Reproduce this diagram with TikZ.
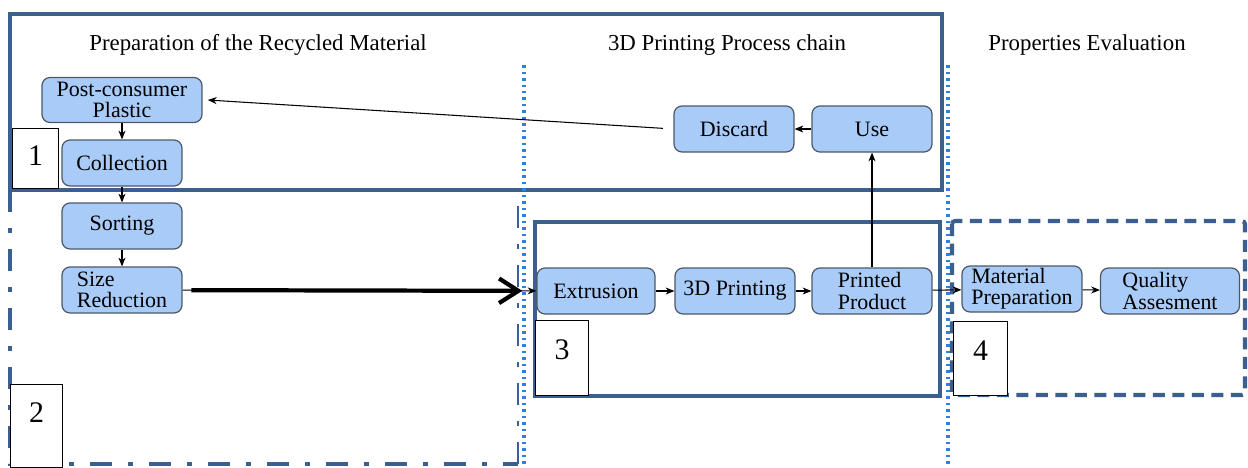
\documentclass[tikz,border=0pt]{standalone}
\usepackage{fontspec}
\setmainfont{Liberation Serif}
\usetikzlibrary{positioning, arrows.meta}

\definecolor{frameblue}{HTML}{3B5F8E}
\definecolor{dotblue}{HTML}{2F80DC}
\definecolor{stepfill}{HTML}{A9CBF7}
\definecolor{stepline}{HTML}{4C5866}

\begin{document}
\begin{tikzpicture}[
        % ----- global styles -----
        x=0.02cm, y=-0.02cm,
        >=Stealth,
        % process steps
        stepbox/.style={draw=stepline, fill=stepfill, rounded corners=0.16cm, line width=0.7pt,
            minimum width=2.4cm, minimum height=0.92cm, inner sep=1pt, align=center,
            font=\rmfamily\fontsize{12.5}{12}\selectfont},
        % stage number boxes
        numbox/.style={draw=black, fill=white, line width=0.6pt, anchor=north west, inner sep=0pt,
            text height=0.4cm, font=\rmfamily\fontsize{17}{17}\selectfont},
        % frames
        stage/.style={draw=frameblue, line width=2.8pt},
        stagedash/.style={draw=frameblue, line width=2.3pt, dash pattern=on 0.24cm off 0.15cm, rounded corners=0.06cm},
        stagedot/.style={draw=frameblue, line width=2.8pt, dash pattern=on 0.44cm off 0.32cm on 0.1cm off 0.32cm},
        divider/.style={draw=dotblue, line width=2pt, dash pattern=on 0.05cm off 0.08cm},
        heading/.style={font=\rmfamily\fontsize{13}{13}\selectfont},
        flow/.style={->, line width=0.6pt, >={Stealth[length=5pt, width=4pt]}}
    ]
    \useasboundingbox (0,0) rectangle (1248,467);

    % ----- frames -----
    \draw[stage] (10,14) rectangle (942,190);
    \draw[stagedot] (10,190) -- (10,464) -- (518,464);
    \draw[stagedot, line width=1.2pt] (518,464) -- (518,200);
    \draw[stage] (535,222) rectangle (940,396);
    \draw[stagedash] (952,221) rectangle (1245,395);
    \draw[divider] (524,65) -- (524,467);
    \draw[divider] (948,65) -- (948,467);

    % ----- headings -----
    \node[heading] (hprep) at (258,45) {Preparation of the Recycled Material};
    \node[heading] (hchain) at (727,45) {3D Printing Process chain};
    \node[heading] (heval) at (1087,45) {Properties Evaluation};

    % ----- steps -----
    \node[stepbox, minimum width=3.2cm, minimum height=0.9cm] (post) at (122,100) {Post-consumer\\Plastic};
    \node[stepbox] (coll) at (122,163) {Collection};
    \node[stepbox] (sort) at (122,226) {Sorting};
    \node[stepbox, align=left] (size) at (122,290) {Size\\Reduction};
    \node[stepbox, minimum width=2.36cm] (extr) at (596,291) {Extrusion};
    \node[stepbox] (print) at (735,291) {3D Printing};
    \node[stepbox, align=left] (prod) at (872,291) {Printed\\Product};
    \node[stepbox, align=left] (matprep) at (1022,289) {Material\\Preparation};
    \node[stepbox, align=left, minimum width=2.78cm] (quality) at (1170,291) {Quality\\Assesment};
    \node[stepbox] (discard) at (734,129) {Discard};
    \node[stepbox] (use) at (872,129) {Use};

    % ----- stage numbers -----
    \node[numbox, minimum width=0.92cm, minimum height=1.2cm, text depth=0.12cm] (n1) at (12,128) {1};
    \node[numbox, minimum width=1.04cm, minimum height=1.66cm, text depth=0.54cm] (n2) at (10,384) {2};
    \node[numbox, minimum width=1.06cm, minimum height=1.5cm, text depth=0.34cm] (n3) at (535,320) {3};
    \node[numbox, minimum width=1.08cm, minimum height=1.48cm, text depth=0.32cm] (n4) at (953,321) {4};

    % ----- arrows -----
    \draw[flow] (post) -- (coll);
    \draw[flow] (coll) -- (sort);
    \draw[flow] (sort) -- (size);
    \draw[flow] (size) -- (extr);
    \draw[line width=2.4pt, -{Straight Barb[length=11pt, width=14pt]}, shorten <=5pt, shorten >=8pt] (size) -- (extr);
    \draw[flow] (extr) -- (print);
    \draw[flow] (print) -- (prod);
    \draw[flow] (prod) -- (matprep);
    \draw[flow] (matprep) -- (quality);
    \draw[flow] (prod) -- (use);
    \draw[flow] (use) -- (discard);
    \draw[flow, shorten <=6pt] (discard.west) -- ([xshift=3pt]post.east);
\end{tikzpicture}
\end{document}
